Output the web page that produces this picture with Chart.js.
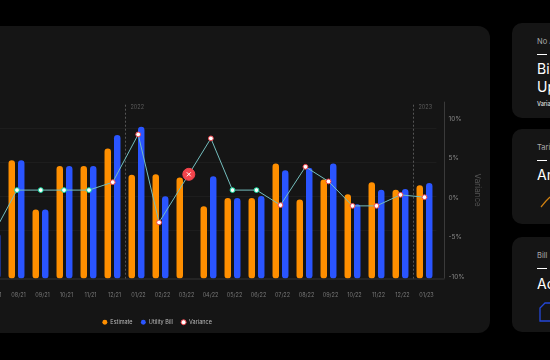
<!DOCTYPE html>
<html>
<head>
<meta charset="utf-8">
<title>Utility bill variance</title>
<script src="https://cdn.jsdelivr.net/npm/chart.js@4"></script>
<style>
  html, body { margin: 0; width: 550px; height: 360px; overflow: hidden; background: #000; font-family: Inter, sans-serif; }
  .main { position: absolute; left: -40px; top: 26px; width: 530px; height: 307px; background: #151515; border-radius: 12px; }
  #chart { position: absolute; left: -168px; top: 0; }
  .card { position: absolute; left: 512px; width: 80px; background: #151515; border-radius: 10px; overflow: hidden; color: #fff; }
  .card .small { position: absolute; left: 25px; font-size: 7.5px; line-height: 10px; color: #aaa; white-space: nowrap; }
  .card .dash { position: absolute; left: 25px; width: 10px; height: 1px; background: #fff; }
  .card .big { position: absolute; left: 25px; font-size: 14px; line-height: 18px; font-weight: 400; white-space: nowrap; }
  .card .tiny { position: absolute; left: 25px; font-size: 5.5px; line-height: 8px; font-weight: 600; color: #ccc; white-space: nowrap; }
  .card svg { position: absolute; left: 0; top: 0; }
</style>
</head>
<body>
<div class="main"></div>
<canvas id="chart" width="650" height="335"></canvas>

<div class="card" style="top:23px;height:95px">
  <div class="small" style="top:14px">No Action</div>
  <div class="dash" style="top:31px"></div>
  <div class="big" style="top:37px">Bill<br>Upload</div>
  <div class="tiny" style="top:77px">Variance</div>
</div>
<div class="card" style="top:129px;height:95px">
  <div class="small" style="top:14px">Tariff</div>
  <div class="dash" style="top:31px"></div>
  <div class="big" style="top:37px">Analysis</div>
  <svg width="80" height="95"><polyline points="29,78 34,72 38,68" fill="none" stroke="#d08010" stroke-width="1.2"/></svg>
</div>
<div class="card" style="top:237px;height:95px">
  <div class="small" style="top:14px">Bill</div>
  <div class="dash" style="top:31px"></div>
  <div class="big" style="top:38px">Action</div>
  <svg width="80" height="95"><path d="M38,66 H33 L28,71 V84 H38" fill="none" stroke="#2447d8" stroke-width="1.3"/></svg>
</div>

<script>
const months = ["07/21", "08/21", "09/21", "10/21", "11/21", "12/21", "01/22", "02/22", "03/22", "04/22",
  "05/22", "06/22", "07/22", "08/22", "09/22", "10/22", "11/22", "12/22", "01/23"];
const estimate = [1330, 3470, 2020, 3300, 3300, 3815, 3040, 3060, 2960, 2118,
  2360, 2360, 3370, 2320, 2900, 2470, 2820, 2600, 2735];
const utilityBill = [1330, 3470, 2020, 3300, 3300, 4205, 4450, 2410, null, 3000,
  2360, 2420, 3175, 3250, 3370, 2175, 2600, 2625, 2800];
const variance = [-4.75, 1, 1, 1, 1, 2, 8.05, -3.1, 3, 7.55, 1, 1, -0.9, 3.95, 2.1, -1, -1, 0.4, 0.1];
// the variance points do not sit exactly on the month centres
const varianceAt = [0, 1.02, 2.01, 2.98, 4.02, 5.01, 6.07, 6.94, 8.18, 9.1, 10, 11, 12, 13.04, 14, 15, 16, 17, 18];
const billGrid = [1400, 2400, 3400, 4400];
const varianceTicks = [-10, -5, 0, 5, 10];
const yearStarts = [["01/22", "2022"], ["01/23", "2023"]];
const missingBill = "03/22";

const missingIndex = months.indexOf(missingBill);

// dashed year markers, the right axis line and the x on the missing bill
const extras = {
  id: "extras",
  beforeDatasetsDraw(chart) {
    const { ctx, chartArea, scales } = chart;
    const band = scales.x.getPixelForValue(1) - scales.x.getPixelForValue(0);
    ctx.save();
    ctx.strokeStyle = "#2a2a2a";
    ctx.lineWidth = 1.5;
    ctx.beginPath();
    ctx.moveTo(chartArea.left, chartArea.bottom + 0.5);
    ctx.lineTo(chartArea.right + 8, chartArea.bottom + 0.5);
    ctx.stroke();
    ctx.strokeStyle = "#3a3a3a";
    ctx.lineWidth = 1;
    ctx.beginPath();
    ctx.moveTo(chartArea.right + 8, chartArea.top);
    ctx.lineTo(chartArea.right + 8, chartArea.bottom);
    ctx.stroke();
    yearStarts.forEach(([month, year]) => {
      const x = Math.round(scales.x.getPixelForValue(months.indexOf(month)) - band / 2) + 0.5;
      ctx.strokeStyle = "#555";
      ctx.setLineDash([2, 2]);
      ctx.beginPath();
      ctx.moveTo(x, chartArea.top + 3);
      ctx.lineTo(x, chartArea.bottom);
      ctx.stroke();
      ctx.setLineDash([]);
      ctx.fillStyle = "#5c5c5c";
      ctx.font = "5.5px Inter";
      ctx.textBaseline = "middle";
      ctx.fillText(year, x + 5, chartArea.top + 6);
    });
    ctx.restore();
  },
  afterDatasetsDraw(chart) {
    const p = chart.getDatasetMeta(2).data[missingIndex];
    const ctx = chart.ctx;
    ctx.save();
    ctx.strokeStyle = "#fff";
    ctx.lineWidth = 1;
    ctx.beginPath();
    ctx.moveTo(p.x - 2, p.y - 2);
    ctx.lineTo(p.x + 2, p.y + 2);
    ctx.moveTo(p.x + 2, p.y - 2);
    ctx.lineTo(p.x - 2, p.y + 2);
    ctx.stroke();
    ctx.restore();
  }
};

new Chart(document.getElementById("chart"), {
  data: {
    datasets: [
      { type: "bar", label: "Estimate", data: estimate.map((v, i) => ({ x: i, y: v })), backgroundColor: "#ff8f00", yAxisID: "y",
        categoryPercentage: 0.79, barPercentage: 0.684, borderRadius: 4, borderSkipped: false },
      { type: "bar", label: "Utility Bill", data: utilityBill.map((v, i) => ({ x: i, y: v })), backgroundColor: "#2a55ff", yAxisID: "y",
        categoryPercentage: 0.79, barPercentage: 0.684, borderRadius: 4, borderSkipped: false },
      { type: "line", label: "Variance", yAxisID: "y1", order: -1,
        data: variance.map((v, i) => ({ x: varianceAt[i], y: v })),
        borderColor: "#74bebe", backgroundColor: "#fff", borderWidth: 1, tension: 0,
        pointBackgroundColor: variance.map((v, i) => i === missingIndex ? "#f4444c" : "#fff"),
        pointBorderColor: variance.map((v, i) => i === missingIndex ? "#f4444c" : v === 1 ? "#12dca0" : "#f0444c"),
        pointBorderWidth: 1,
        pointRadius: variance.map((v, i) => i === missingIndex ? 6 : 2.4) }
    ]
  },
  options: {
    responsive: false,
    animation: false,
    layout: { padding: { top: 101.7, left: 0, right: 0, bottom: 0 } },
    plugins: {
      tooltip: { enabled: false },
      legend: {
        position: "bottom",
        labels: {
          usePointStyle: true,
          pointStyle: "circle",
          boxHeight: 3.5,
          padding: 8,
          color: "#bbb",
          font: { family: "Inter", size: 5.5 },
          generateLabels(chart) {
            const items = Chart.defaults.plugins.legend.labels.generateLabels(chart);
            items.sort((a, b) => a.datasetIndex - b.datasetIndex);
            items[2].strokeStyle = "#f0444c";
            items[2].fillStyle = "#fff";
            return items;
          }
        }
      }
    },
    scales: {
      x: {
        type: "linear",
        offset: false,
        min: -0.5,
        max: months.length - 0.5,
        afterBuildTicks(axis) { axis.ticks = months.map((m, i) => ({ value: i })); },
        grid: { display: false },
        border: { display: false },
        afterFit(box) { box.height = 33; },
        ticks: { color: "#777", font: { family: "Inter", size: 5.5 }, maxRotation: 0, autoSkip: false, padding: 6, labelOffset: 2,
          callback: (v) => months[v] }
      },
      y: {
        position: "left",
        min: 0,
        max: 5185,
        afterBuildTicks(axis) { axis.ticks = billGrid.map((value) => ({ value })); },
        afterFit(box) { box.width = 148.5; },
        grid: { color: "#1d1d1d", lineWidth: 1, drawTicks: false },
        border: { display: false },
        ticks: { display: false }
      },
      y1: {
        position: "right",
        min: -10.2,
        max: 12.2,
        afterBuildTicks(axis) { axis.ticks = varianceTicks.map((value) => ({ value })); },
        afterFit(box) { box.width = 45.5; },
        grid: { display: false, drawOnChartArea: false },
        border: { display: false },
        title: { display: true, text: "Variance", color: "#555", font: { family: "Inter", size: 8 }, padding: 0 },
        ticks: { color: "#888", font: { family: "Inter", size: 6.5 }, padding: 4,
          callback: (v) => v + "%" }
      }
    }
  },
  plugins: [extras]
});
</script>
</body>
</html>
